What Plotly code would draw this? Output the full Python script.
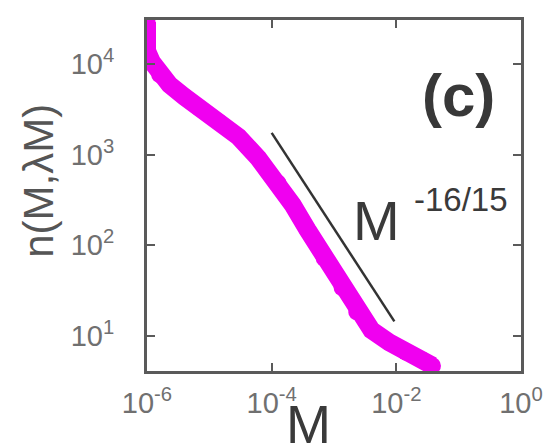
import plotly.graph_objects as go

# data band
M_vals = [1.0e-6, 1.0e-6, 1.2e-6, 1.6e-6, 2.3e-6, 4.0e-6, 6.9e-6, 1.42e-5, 2.95e-5,
          6.1e-5, 1.26e-4, 2.18e-4, 3.76e-4, 6.97e-4, 1.35e-3, 2.32e-3, 4.0e-3,
          7.7e-3, 1.43e-2, 2.65e-2, 3.8e-2]
n_vals = [29000, 14000, 10500, 7600, 5900, 4350, 3270, 2290, 1570,
          915, 487, 279, 148, 72, 34, 18.4, 11.6,
          8.5, 6.6, 5.4, 4.7]

# reference power-law line M^-16/15 (endpoints)
ref_M = [1.0e-4, 9.3e-3]
ref_n = [1740, 14.5]

x_tickvals = [1e-6, 1e-4, 1e-2, 1e0]
x_ticktext = ["10<sup>-6</sup>", "10<sup>-4</sup>", "10<sup>-2</sup>", "10<sup>0</sup>"]
y_tickvals = [1e1, 1e2, 1e3, 1e4]
y_ticktext = ["10<sup>1</sup>", "10<sup>2</sup>", "10<sup>3</sup>", "10<sup>4</sup>"]

fig = go.Figure()
fig.add_trace(go.Scatter(x=M_vals, y=n_vals, mode="lines+markers",
                         line=dict(color="#f000f0", width=18),
                         marker=dict(color="#f000f0", size=17),
                         showlegend=False))
fig.add_trace(go.Scatter(x=ref_M, y=ref_n, mode="lines",
                         line=dict(color="#333333", width=2.5),
                         showlegend=False))

axis_common = dict(showgrid=False, zeroline=False, showline=True, mirror="ticks",
                   linecolor="#5a5a5a", linewidth=3, ticks="inside", ticklen=8,
                   tickwidth=2, tickcolor="#5a5a5a",
                   tickfont=dict(family="Liberation Sans, Arial", size=29, color="#707070"))

fig.update_xaxes(type="log", range=[-6, 0], tickmode="array",
                 tickvals=x_tickvals, ticktext=x_ticktext, ticklabelstandoff=4,
                 **axis_common)
fig.update_yaxes(type="log", range=[0.614, 4.485], tickmode="array",
                 tickvals=y_tickvals, ticktext=y_ticktext, ticklabelstandoff=24,
                 **axis_common)

annots = [
    dict(text="<b>(c)</b>", x=(463 - 147) / 380, y=1 - (96 - 20) / 351,
         font=dict(size=60, color="#383838")),
    dict(text="M", x=(380 - 147) / 380, y=1 - (220 - 20) / 351,
         font=dict(size=56, color="#3a3a3a")),
    dict(text="-16/15", x=(466 - 147) / 380, y=1 - (199 - 20) / 351,
         font=dict(size=33, color="#3a3a3a")),
    dict(text="M", x=(311 - 147) / 380, y=1 - (424 - 20) / 351,
         font=dict(size=54, color="#3a3a3a")),
    dict(text="n(M,λM)", x=(36 - 147) / 380, y=1 - (181 - 20) / 351, textangle=-90,
         font=dict(size=42, color="#555555")),
]
for a in annots:
    fig.add_annotation(xref="paper", yref="paper", showarrow=False,
                       xanchor="center", yanchor="middle",
                       text=a["text"], x=a["x"], y=a["y"],
                       textangle=a.get("textangle", 0),
                       font=dict(family="Liberation Sans, Arial", **a["font"]))

fig.update_layout(width=555, height=448, margin=dict(l=147, r=28, t=20, b=77),
                  paper_bgcolor="white", plot_bgcolor="white")

fig.write_html("out.html")
